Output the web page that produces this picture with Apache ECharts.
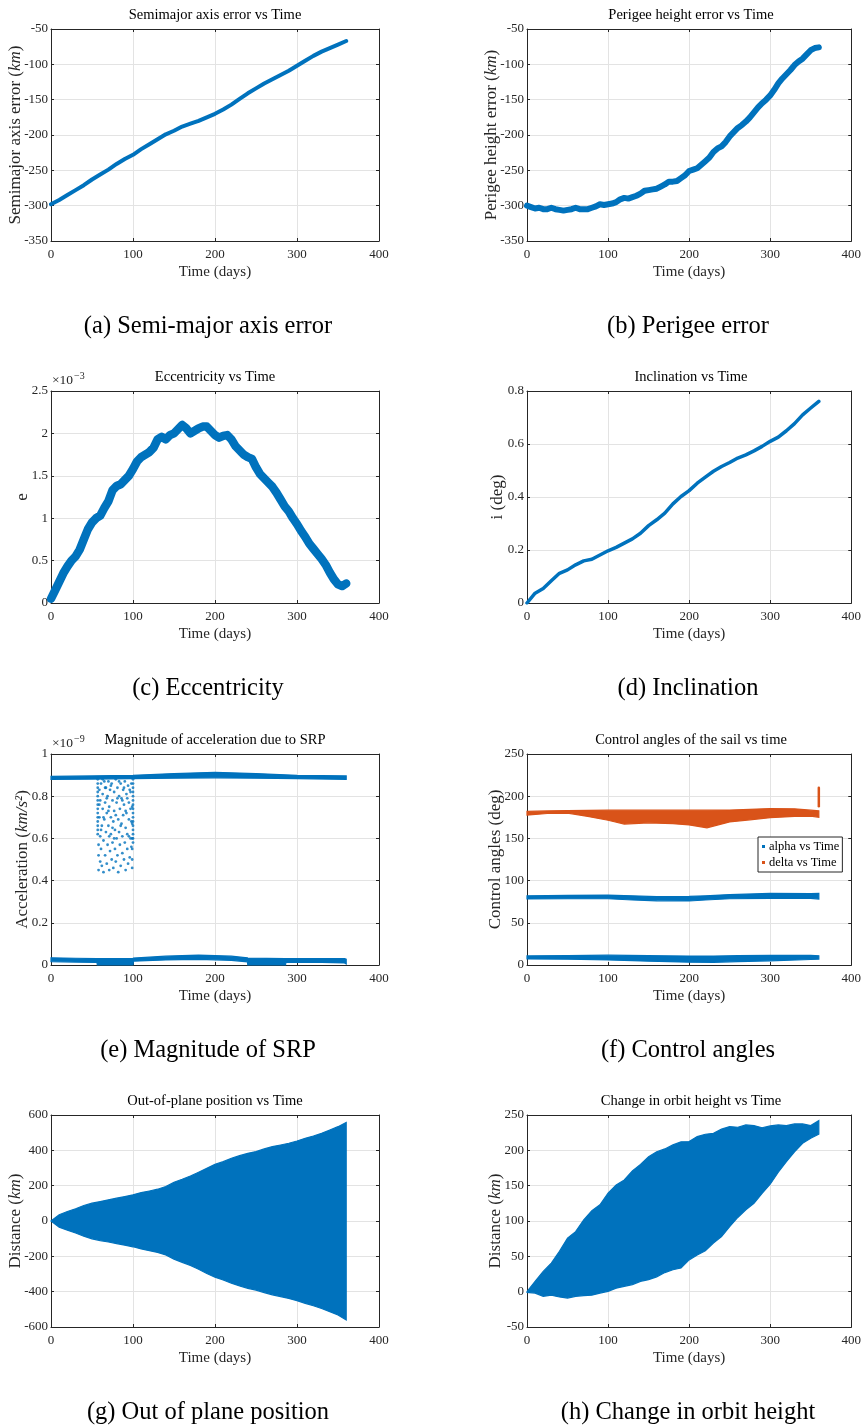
<!DOCTYPE html>
<html><head><meta charset="utf-8">
<script src="https://cdn.jsdelivr.net/npm/echarts@6/dist/echarts.min.js"></script>
<style>html,body{margin:0;padding:0;background:#fff}#c{width:864px;height:1426px}</style>
</head><body><div id="c"></div><script>
// ---------------- DATA ----------------
const tDays = [0,10,20,30,40,50,60,70,80,90,100,110,120,130,140,150,160,170,180,190,200,210,220,230,240,250,260,270,280,290,300,310,320,330,340,350,360];
const t5 = [0,5,10,15,20,25,30,35,40,45,50,55,60,65,70,75,80,85,90,95,100,105,110,115,120,125,130,135,140,145,150,155,160,165,170,175,180,185,190,195,200,205,210,215,220,225,230,235,240,245,250,255,260,265,270,275,280,285,290,295,300,305,310,315,320,325,330,335,340,345,350,355,360];

const smaErr = [-298,-292,-285,-278,-271,-263,-256,-249,-241,-234,-228,-220,-213,-206,-199,-194,-188,-184,-180,-175,-170,-164,-157,-149,-141,-134,-127,-121,-115,-109,-102,-95,-88,-82,-77,-72,-67];
const perigeeErr = [-300,-302,-304,-303,-305,-305,-303,-305,-306,-307,-306,-305,-303,-305,-305,-305,-303,-301,-298,-299,-298,-297,-295,-291,-289,-290,-288,-286,-283,-279,-278,-277,-276,-273,-270,-266,-266,-265,-261,-257,-251,-249,-247,-242,-237,-232,-224,-219,-216,-210,-202,-196,-190,-186,-181,-175,-168,-161,-155,-150,-144,-136,-127,-120,-114,-108,-101,-96,-92,-86,-80,-77,-76];
const eccen = [0.05,0.15,0.25,0.35,0.43,0.5,0.55,0.63,0.75,0.87,0.95,1.0,1.03,1.12,1.2,1.33,1.38,1.4,1.45,1.5,1.58,1.67,1.72,1.75,1.78,1.83,1.93,1.96,1.93,1.98,2.0,2.05,2.1,2.06,2.0,2.03,2.06,2.08,2.08,2.03,1.98,1.95,1.97,1.98,1.93,1.85,1.8,1.75,1.72,1.7,1.6,1.52,1.47,1.42,1.37,1.3,1.22,1.14,1.08,1.0,0.93,0.85,0.78,0.7,0.64,0.58,0.52,0.45,0.36,0.28,0.22,0.2,0.23];
const incl = [0,0.037,0.055,0.084,0.112,0.125,0.144,0.159,0.165,0.181,0.197,0.21,0.226,0.242,0.263,0.292,0.314,0.339,0.374,0.402,0.424,0.452,0.475,0.497,0.515,0.53,0.547,0.559,0.574,0.591,0.61,0.626,0.65,0.677,0.71,0.736,0.761];

// SRP acceleration (x1e-9 km/s^2)
const srpTopT  = [0,50,100,150,200,250,300,360];
const srpTopLo = [0.880,0.881,0.883,0.885,0.887,0.885,0.883,0.880];
const srpTopHi = [0.894,0.896,0.899,0.907,0.913,0.907,0.899,0.896];
const srpBotT  = [0,30,56,56.5,100,100.5,140,180,220,239.5,240,286,286.5,330,358,360];
const srpBotLo = [0.016,0.014,0.012,0.0,0.0,0.018,0.024,0.027,0.022,0.015,0.0,0.0,0.012,0.012,0.01,0.005];
const srpBotHi = [0.034,0.032,0.030,0.030,0.031,0.033,0.042,0.047,0.042,0.034,0.033,0.030,0.030,0.030,0.030,0.028];
const srpDotT = [57,57,57,57,57,57,57,57,57,57,57,57,57,57,
  100,100,100,100,100,100,100,100,100,100,100,100,100,100,100,100,
  99,99,99,99,99,99,
  58,58,58,59,59,60,60,60,61,61,62,62,63,63,64,64,65,65,66,66,67,67,68,68,69,69,70,70,71,71,72,72,73,73,74,74,75,75,76,76,77,77,78,78,79,79,80,80,81,81,82,82,83,83,84,84,85,85,86,86,87,87,88,88,89,89,90,90,91,91,92,92,93,93,94,94,95,95,96,96,97,97,98,98,
  59,61,63,64,66,68,70,71,73,75,77,79,81,83,85,87,89,91,93,95,97,98];
const srpDotV = [0.62,0.64,0.66,0.68,0.70,0.72,0.74,0.76,0.78,0.80,0.82,0.84,0.86,0.88,
  0.58,0.60,0.62,0.64,0.66,0.68,0.70,0.72,0.74,0.76,0.78,0.80,0.82,0.84,0.86,0.88,
  0.46,0.50,0.55,0.60,0.67,0.75,
  0.45,0.52,0.57,0.83,0.70,0.49,0.61,0.78,0.86,0.55,0.66,0.47,0.74,0.81,0.59,0.44,0.87,0.69,0.52,0.77,0.63,0.84,0.48,0.72,0.57,0.80,0.66,0.87,0.45,0.75,0.54,0.83,0.62,0.70,0.50,0.86,0.78,0.58,0.46,0.68,0.82,0.73,0.55,0.64,0.88,0.49,0.77,0.60,0.84,0.52,0.69,0.44,0.80,0.63,0.57,0.74,0.86,0.47,0.67,0.79,0.53,0.61,0.83,0.71,0.50,0.76,0.58,0.87,0.65,0.45,0.81,0.72,0.55,0.62,0.85,0.48,0.69,0.77,0.51,0.83,0.60,0.74,0.56,0.86,
  0.76,0.64,0.88,0.70,0.84,0.79,0.73,0.61,0.85,0.65,0.60,0.71,0.79,0.87,0.66,0.78,0.84,0.73,0.79,0.61,0.82,0.68];

// Control angles (deg)
const deltaT  = [0,25,50,75,100,120,150,180,200,222,250,275,300,330,350,360];
const deltaLo = [177.5,179.5,180,176,171.5,167,168.5,167.5,166,162.5,169.5,172,174.5,176,176.5,175];
const deltaHi = [182,182.5,183,183.3,183.4,183.4,183.4,183.4,183.4,183.4,183.6,184.5,185.3,185,183.5,182.6];
const deltaSpikeT = [360,360];
const deltaSpikeV = [188,210];
const alphaT  = [0,50,100,130,160,200,220,250,300,350,360];
const alphaLo = [78.2,78.5,78.5,77,76,75.8,77,78.5,79,79,78.2];
const alphaHi = [82,82.5,82.8,82,81,81.2,82,83.5,84.8,84.5,84.8];
const alpha2T  = [0,50,100,150,200,230,260,300,350,360];
const alpha2Lo = [7.2,6.8,6,4.5,3.3,3.2,4,5,6.5,7];
const alpha2Hi = [10.8,11.2,11.6,11,10.6,10.6,11,11.5,11.5,11];

// Out-of-plane position (km)
const oopUpper = [0,35,54,69,88,101,110,120,129,138,148,161,170,180,195,219,236,255,276,298,321,336,355,370,383,393,408,421,430,440,453,468,481,496,515,534,558];
const oopLower = [0,-35,-52,-68,-86,-101,-111,-119,-128,-137,-146,-158,-168,-178,-192,-216,-234,-252,-273,-297,-318,-334,-352,-368,-381,-391,-405,-418,-428,-438,-451,-466,-480,-495,-513,-532,-560];

// Change in orbit height (km)
const htUpper = [0,14.6,28.7,40.5,57,75.8,85,101.7,114.5,123,139.4,151,158,171,180,191,198,202,207.7,212,212.4,219.5,222.8,224,230,233.6,232.7,236,235,232,234.6,236,235,237.4,237.4,235,242];
const htLower = [-1,-2,-6.6,-5,-7.5,-9,-6.6,-5.6,-5,-2,0.5,5,7.5,10,14.6,17,21,27,31,33.4,45,52,58,68.8,78,92,105,116,125,139,152,169,184,198,210,217,222.8];

// Axis ranges [min, max, interval]
const xRange = [0, 400, 100];
const yRanges = [[-350,-50,50],[-350,-50,50],[0,2.5,0.5],[0,0.8,0.2],[0,1,0.2],[0,250,50],[-600,600,200],[-50,250,50]];

const titles = ['Semimajor axis error vs Time','Perigee height error vs Time','Eccentricity vs Time','Inclination vs Time',
  'Magnitude of acceleration due to SRP','Control angles of the sail vs time','Out-of-plane position vs Time','Change in orbit height vs Time'];
const yNames = ['Semimajor axis error ({i|km})','Perigee height error ({i|km})','e','i (deg)',
  'Acceleration ({i|km/s²})','Control angles (deg)','Distance ({i|km})','Distance ({i|km})'];
const captions = ['(a) Semi-major axis error','(b) Perigee error','(c) Eccentricity','(d) Inclination',
  '(e) Magnitude of SRP','(f) Control angles','(g) Out of plane position','(h) Change in orbit height'];
const xName = 'Time (days)';

// ---------------- LAYOUT ----------------
const FONT = '"Liberation Serif","DejaVu Serif",serif';
const AX = '#262626';
const BLUE = '#0072BD', ORANGE = '#D95319';
const gridPos = [[51,29],[527,29],[51,391],[527,391],[51,754],[527,754],[51,1115],[527,1115]];
const GW = 328, GH = 212;
const yGaps = [26.5,26.5,20,20.5,19.5,22.5,26.5,22.5];
const captionY = [327,327,689,689,1051,1051,1413,1413];

const grids = [], xAxes = [], yAxes = [], titleOpts = [], graphics = [];
gridPos.forEach((p, i) => {
  grids.push({left: p[0], top: p[1], width: GW, height: (i===4||i===5)?211:GH, show: false});
  const line = {onZero: false, lineStyle: {color: AX, width: 1}};
  const tick = {inside: true, length: 3, lineStyle: {color: AX, width: 1}};
  const split = {show: true, lineStyle: {color: '#e3e3e3', width: 1}};
  xAxes.push({type: 'value', gridIndex: i, position: 'bottom', min: xRange[0], max: xRange[1], interval: xRange[2],
    name: xName, nameLocation: 'middle', nameGap: 24, nameMoveOverlap: false,
    nameTextStyle: {fontFamily: FONT, fontSize: 15, color: AX},
    axisLine: line, axisTick: tick, splitLine: split,
    axisLabel: {margin: 7, color: AX, fontFamily: FONT, fontSize: 13}});
  xAxes.push({type: 'value', gridIndex: i, position: 'top', min: xRange[0], max: xRange[1], interval: xRange[2],
    axisLine: line, axisTick: tick, splitLine: {show: false}, axisLabel: {show: false}});
  const yr = yRanges[i];
  yAxes.push({type: 'value', gridIndex: i, position: 'left', min: yr[0], max: yr[1], interval: yr[2],
    name: yNames[i], nameLocation: 'middle', nameGap: yGaps[i], nameMoveOverlap: false,
    nameTextStyle: {fontFamily: FONT, fontSize: 17, color: AX, rich: {i: {fontFamily: FONT, fontSize: 17, fontStyle: 'italic', color: AX}}},
    axisLine: line, axisTick: tick, splitLine: split,
    axisLabel: {margin: 3, color: AX, fontFamily: FONT, fontSize: 13}});
  yAxes.push({type: 'value', gridIndex: i, position: 'right', min: yr[0], max: yr[1], interval: yr[2],
    axisLine: line, axisTick: tick, splitLine: {show: false}, axisLabel: {show: false}});
  titleOpts.push({text: titles[i], left: p[0] + GW/2, top: p[1] - 21, textAlign: 'center', padding: 0,
    textStyle: {fontFamily: FONT, fontSize: 14.5, fontWeight: 'normal', color: '#000'}});
  graphics.push({type: 'text', x: (i % 2 === 0) ? 208 : 688, y: captionY[i],
    style: {text: captions[i], fill: '#000', font: '24.5px ' + FONT, align: 'center', verticalAlign: 'middle'}});
});
// exponent labels
[[2,'3'],[4,'9']].forEach(([gi, ex]) => {
  const p = gridPos[gi];
  graphics.push({type: 'text', x: p[0] + 1, y: p[1] - 4, style: {text: '×10', fill: AX, font: '13.5px ' + FONT, align: 'left', verticalAlign: 'bottom'}});
  graphics.push({type: 'text', x: p[0] + 23, y: p[1] - 10, style: {text: '−' + ex, fill: AX, font: '10px ' + FONT, align: 'left', verticalAlign: 'bottom'}});
});

function zip(xs, ys) { return xs.map((x, k) => [x, ys[k]]); }
function lineSeries(gi, xs, ys, color, width, name) {
  return {type: 'line', name: name, xAxisIndex: gi*2, yAxisIndex: gi*2, data: zip(xs, ys), showSymbol: false,
    lineStyle: {color: color, width: width, cap: 'round', join: 'round'}, itemStyle: {color: color}, animation: false, silent: true, z: 3};
}
function bandSeries(gi, xs, lo, hi, color, name) {
  return {type: 'custom', name: name, coordinateSystem: 'cartesian2d', xAxisIndex: gi*2, yAxisIndex: gi*2,
    data: xs.map((x, k) => [x, lo[k], hi[k]]), encode: {x: 0, y: [1, 2]},
    itemStyle: {color: color}, animation: false, silent: true, z: 3,
    renderItem: function (params, api) {
      if (params.dataIndex !== 0) return null;
      const pts = [];
      for (let k = 0; k < xs.length; k++) pts.push(api.coord([xs[k], hi[k]]));
      for (let k = xs.length - 1; k >= 0; k--) pts.push(api.coord([xs[k], lo[k]]));
      return {type: 'polygon', shape: {points: pts}, style: {fill: color, stroke: color, lineWidth: 1.2}};
    }};
}

const series = [
  lineSeries(0, tDays, smaErr, BLUE, 4),
  lineSeries(1, t5, perigeeErr, BLUE, 6),
  lineSeries(2, t5, eccen, BLUE, 8.5),
  lineSeries(3, tDays, incl, BLUE, 3.5),
  bandSeries(4, srpTopT, srpTopLo, srpTopHi, BLUE),
  bandSeries(4, srpBotT, srpBotLo, srpBotHi, BLUE),
  {type: 'scatter', xAxisIndex: 8, yAxisIndex: 8, data: zip(srpDotT, srpDotV), symbol: 'circle', symbolSize: 2.8,
    itemStyle: {color: BLUE}, animation: false, silent: true, z: 3},
  bandSeries(5, alphaT, alphaLo, alphaHi, BLUE, 'alpha vs Time'),
  bandSeries(5, alpha2T, alpha2Lo, alpha2Hi, BLUE, 'alpha vs Time'),
  bandSeries(5, deltaT, deltaLo, deltaHi, ORANGE, 'delta vs Time'),
  lineSeries(5, deltaSpikeT, deltaSpikeV, ORANGE, 2.5, 'delta vs Time'),
  bandSeries(6, tDays, oopLower, oopUpper, BLUE),
  bandSeries(7, tDays, htLower, htUpper, BLUE)
];

const chart = echarts.init(document.getElementById('c'), null, {renderer: 'canvas'});
chart.setOption({
  backgroundColor: '#fff',
  animation: false,
  title: titleOpts,
  grid: grids,
  xAxis: xAxes,
  yAxis: yAxes,
  legend: {data: ['alpha vs Time', 'delta vs Time'], orient: 'vertical', left: 758, top: 837,
    icon: 'rect', itemWidth: 3, itemHeight: 3, itemGap: 3, padding: [3, 3, 3, 4],
    borderColor: AX, borderWidth: 1, backgroundColor: '#fff', selectedMode: false,
    textStyle: {fontFamily: FONT, fontSize: 12.5, color: '#000', padding: [0, 0, 0, -1]}},
  graphic: graphics,
  series: series
});
</script></body></html>
